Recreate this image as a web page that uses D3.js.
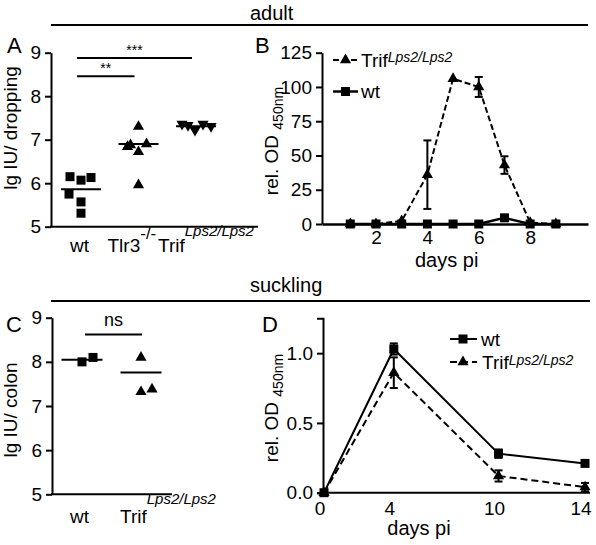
<!DOCTYPE html>
<html><head><meta charset="utf-8">
<script src="https://cdn.jsdelivr.net/npm/d3@7"></script>
<style>body{margin:0;background:#fff}svg{display:block;font-family:"Liberation Sans",Arial,sans-serif}</style>
</head><body><svg id="c" width="596" height="545"></svg>
<script>
// ---------- data ----------
const groupsA = ["wt", "Tlr3", "Trif"];
const wtA = [6.15, 6.07, 6.13, 5.75, 5.57, 5.31];
const tlr3A = [7.30, 6.84, 6.88, 6.72, 6.90, 5.96];
const trifA = [7.36, 7.33, 7.22, 7.36, 7.31];
const wtAJit = [-1.1, 0, 1, -1.2, 0, 0];
const tlr3AJit = [0, -1.1, -0.8, 0, 0.8, 0];
const trifAJit = [-1.4, -0.8, -0.1, 0.7, 1.5];
const centerA = [5.86, 6.90, 7.31];
const sigA = [["wt", "Tlr3", 8.46, "**"], ["wt", "Trif", 8.88, "***"]];
const ticksA = [5, 6, 7, 8, 9];

const daysB = [1, 2, 3, 4, 5, 6, 7, 8, 9];
const trifB = [0, 0, 2.2, 36, 106, 100, 43, 1, 0];
const trifBErr = [0, 0, 0, 25, 0, 7.3, 6.4, 0, 0];
const wtB = [0, 0, 0, 0, 0, 0, 4.5, 0, 0];
const wtBErr = [0, 0, 0, 0, 0, 0, 2.1, 0, 0];
const ticksBy = [0, 25, 50, 75, 100, 125];
const ticksBx = [2, 4, 6, 8];

const groupsC = ["wt", "Trif"];
const wtC = [8.00, 8.10];
const trifC = [8.10, 7.32, 7.38];
const wtCJit = [0, 1.1];
const trifCJit = [0, 0, 1.1];
const centerC = [8.05, 7.76];
const sigC = [["wt", "Trif", 8.62, "ns"]];
const ticksC = [5, 6, 7, 8, 9];

const daysD = [0, 4, 10, 14];
const wtD = [0, 1.03, 0.28, 0.21];
const wtDErr = [0, 0.04, 0.03, 0.01];
const trifD = [0, 0.86, 0.12, 0.04];
const trifDErr = [0, 0.11, 0.04, 0.03];
const ticksDy = [0, 0.5, 1.0];
const ticksDx = [0, 4, 10, 14];

// ---------- setup ----------
const svg = d3.select("#c");
const F = '"Liberation Sans", Arial, sans-serif';
const K = "#000";
const FS = 19;

function hline(x1, x2, y, w) {
  svg.append("line").attr("x1", x1).attr("x2", x2).attr("y1", y).attr("y2", y)
    .attr("stroke", K).attr("stroke-width", w || 2);
}
function txt(x, y, s, size, anchor) {
  return svg.append("text").attr("x", x).attr("y", y).text(s)
    .attr("font-size", size || FS).attr("font-family", F).attr("fill", K)
    .attr("text-anchor", anchor || "start");
}
function vAxis(scale, x, ticks, fmt, outer) {
  const g = svg.append("g").attr("transform", `translate(${x},0)`);
  g.call(d3.axisLeft(scale).tickValues(ticks).tickFormat(fmt).tickSize(6).tickSizeOuter(outer || 0).tickPadding(4));
  g.select(".domain").attr("stroke", K).attr("stroke-width", 2);
  g.selectAll(".tick line").attr("stroke", K).attr("stroke-width", 2);
  g.selectAll(".tick text").attr("font-size", FS).attr("font-family", F).attr("fill", K);
  return g;
}
const sq = d3.symbol().type(d3.symbolSquare).size(81);
const tri = d3.symbol().type(d3.symbolTriangle).size(54);
function mark(type, x, y, rot) {
  svg.append("path").attr("d", type === "sq" ? sq() : tri())
    .attr("transform", `translate(${x},${y})` + (rot ? " rotate(180)" : ""))
    .attr("fill", K);
}
function errbar(x, y0, y1) {
  svg.append("line").attr("x1", x).attr("x2", x).attr("y1", y0).attr("y2", y1).attr("stroke", K).attr("stroke-width", 2);
  hline(x - 4, x + 4, y0, 2); hline(x - 4, x + 4, y1, 2);
}
function ylabel(x, y, main, sub) {
  const t = svg.append("text").attr("transform", `translate(${x},${y}) rotate(-90)`)
    .attr("text-anchor", "middle").attr("font-size", FS).attr("font-family", F).attr("fill", K);
  t.append("tspan").text(main);
  if (sub) t.append("tspan").text(sub).attr("font-size", 14).attr("dy", 5);
}
function supLabel(x, y, main, sup, shift, supSize, italic) {
  const t = txt(x, y, null, FS);
  t.append("tspan").text(main);
  t.append("tspan").text(sup).attr("font-size", supSize || 14)
    .attr("font-style", italic === false ? "normal" : "italic").attr("dy", shift);
  return t;
}

// ---------- section titles ----------
txt(250, 20, "adult", 20);
hline(51, 588, 25, 2);
txt(250, 292, "suckling", 20);
hline(51, 590, 301, 2);

// ---------- Panel A ----------
const yA = d3.scaleLinear().domain([5, 9]).range([226.7, 52.7]);
const xA = d3.scalePoint().domain(groupsA).range([81, 196]);
const J = 10;
txt(7, 53, "A", 22);
vAxis(yA, 51, ticksA, d3.format("d"));
hline(50, 258, yA(5), 2);
ylabel(17, 128, "lg IU/ dropping");
wtA.forEach((v, i) => mark("sq", xA("wt") + wtAJit[i] * J, yA(v)));
tlr3A.forEach((v, i) => mark("tri", xA("Tlr3") + tlr3AJit[i] * J, yA(v)));
trifA.forEach((v, i) => mark("tri", xA("Trif") + trifAJit[i] * J, yA(v), true));
centerA.forEach((v, i) => hline(xA(groupsA[i]) - 20, xA(groupsA[i]) + 20, yA(v), 2));
sigA.forEach(s => {
  const x1 = xA(s[0]) - 4, x2 = xA(s[1]) - 4;
  hline(x1, x2, yA(s[2]), 2);
  txt((x1 + x2) / 2, yA(s[2]) - 3, s[3], 14, "middle");
});
txt(xA("wt") - 11, 252, "wt");
supLabel(xA("Tlr3") - 31, 252, "Tlr3", "-/-", -13, 17, false);
supLabel(xA("Trif") - 38, 252, "Trif", "Lps2/Lps2", -16, 15);

// ---------- Panel B ----------
const yB = d3.scaleLinear().domain([0, 125]).range([224, 52.7]);
const xB = d3.scaleLinear().domain([-0.1, 10.25]).range([322, 588]);
txt(255, 53, "B", 22);
vAxis(yB, 322, ticksBy, d3.format("d"));
const gxB = svg.append("g").attr("transform", `translate(0,${yB(0)})`)
  .call(d3.axisBottom(xB).tickValues(ticksBx).tickSize(0).tickSizeOuter(0).tickPadding(7));
gxB.select(".domain").attr("stroke", K).attr("stroke-width", 2.5);
gxB.selectAll(".tick text").attr("font-size", FS).attr("font-family", F).attr("fill", K);
txt(xB(4.75), 267, "days pi", 20, "middle");
ylabel(278, 141, "rel. OD ", "450nm");
const lineB = d3.line().x((d, i) => xB(daysB[i])).y(d => yB(d));
svg.append("path").datum(wtB).attr("d", lineB).attr("fill", "none").attr("stroke", K).attr("stroke-width", 2.5);
svg.append("path").datum(trifB).attr("d", lineB).attr("fill", "none").attr("stroke", K).attr("stroke-width", 2).attr("stroke-dasharray", "6,3");
wtB.forEach((v, i) => { if (wtBErr[i]) errbar(xB(daysB[i]), yB(v - wtBErr[i]), yB(v + wtBErr[i])); });
trifB.forEach((v, i) => { if (trifBErr[i]) errbar(xB(daysB[i]), yB(v - trifBErr[i]), yB(v + trifBErr[i])); });
wtB.forEach((v, i) => mark("sq", xB(daysB[i]), yB(v)));
trifB.forEach((v, i) => mark("tri", xB(daysB[i]), yB(v)));
// legend B
svg.append("line").attr("x1", 333).attr("x2", 358).attr("y1", 60).attr("y2", 60).attr("stroke", K).attr("stroke-width", 2).attr("stroke-dasharray", "6,3");
mark("tri", 345.5, 60);
supLabel(361, 67, "Trif", "Lps2/Lps2", -5, 14);
hline(333, 358, 91.5, 2.5);
mark("sq", 345.5, 91.5);
txt(361, 98, "wt");

// ---------- Panel C ----------
const yC = d3.scaleLinear().domain([5, 9]).range([494.3, 317.7]);
const xC = d3.scalePoint().domain(groupsC).range([82, 141]);
txt(6, 332, "C", 22);
vAxis(yC, 52, ticksC, d3.format("d"));
hline(51, 172, yC(5), 2);
ylabel(17, 410, "lg IU/ colon");
wtC.forEach((v, i) => mark("sq", xC("wt") + wtCJit[i] * J, yC(v)));
trifC.forEach((v, i) => mark("tri", xC("Trif") + trifCJit[i] * J, yC(v)));
centerC.forEach((v, i) => hline(xC(groupsC[i]) - 20.5, xC(groupsC[i]) + 20.5, yC(v), 2));
sigC.forEach(s => {
  const x1 = xC(s[0]) + 3, x2 = xC(s[1]) + 1;
  hline(x1, x2, yC(s[2]), 2);
  txt((x1 + x2) / 2, yC(s[2]) - 8, s[3], 18, "middle");
});
txt(xC("wt") - 12, 523, "wt");
supLabel(xC("Trif") - 21, 523, "Trif", "Lps2/Lps2", -19, 15);

// ---------- Panel D ----------
const yD = d3.scaleLinear().domain([0, 1.25]).range([492.7, 318.3]);
const xD = d3.scaleLinear().domain([0, 10, 14]).range([324, 498.5, 585]);
txt(262, 332, "D", 22);
vAxis(yD, 323, ticksDy, d3.format(".1f"), 6);
hline(322, 590, yD(0), 2);
svg.append("g").selectAll("text").data(ticksDx).join("text")
  .attr("x", d => xD(d) - 4).attr("y", 515).text(d => d)
  .attr("text-anchor", "middle").attr("font-size", FS).attr("font-family", F).attr("fill", K);
txt(419, 535, "days pi", 20, "middle");
ylabel(278, 408, "rel. OD ", "450nm");
const lineD = d3.line().x((d, i) => xD(daysD[i])).y(d => yD(d));
svg.append("path").datum(wtD).attr("d", lineD).attr("fill", "none").attr("stroke", K).attr("stroke-width", 2);
svg.append("path").datum(trifD).attr("d", lineD).attr("fill", "none").attr("stroke", K).attr("stroke-width", 2).attr("stroke-dasharray", "7,4");
wtD.forEach((v, i) => { if (wtDErr[i]) errbar(xD(daysD[i]), yD(v - wtDErr[i]), yD(v + wtDErr[i])); });
trifD.forEach((v, i) => { if (trifDErr[i]) errbar(xD(daysD[i]), yD(v - trifDErr[i]), yD(v + trifDErr[i])); });
wtD.forEach((v, i) => mark("sq", xD(daysD[i]), yD(v)));
trifD.forEach((v, i) => mark("tri", xD(daysD[i]), yD(v)));
// legend D
hline(450, 477, 339, 2);
mark("sq", 463, 339);
txt(481, 346, "wt");
svg.append("line").attr("x1", 450).attr("x2", 477).attr("y1", 362).attr("y2", 362).attr("stroke", K).attr("stroke-width", 2).attr("stroke-dasharray", "7,4");
mark("tri", 463, 362);
supLabel(482, 369, "Trif", "Lps2/Lps2", -4, 14);
</script></body></html>
